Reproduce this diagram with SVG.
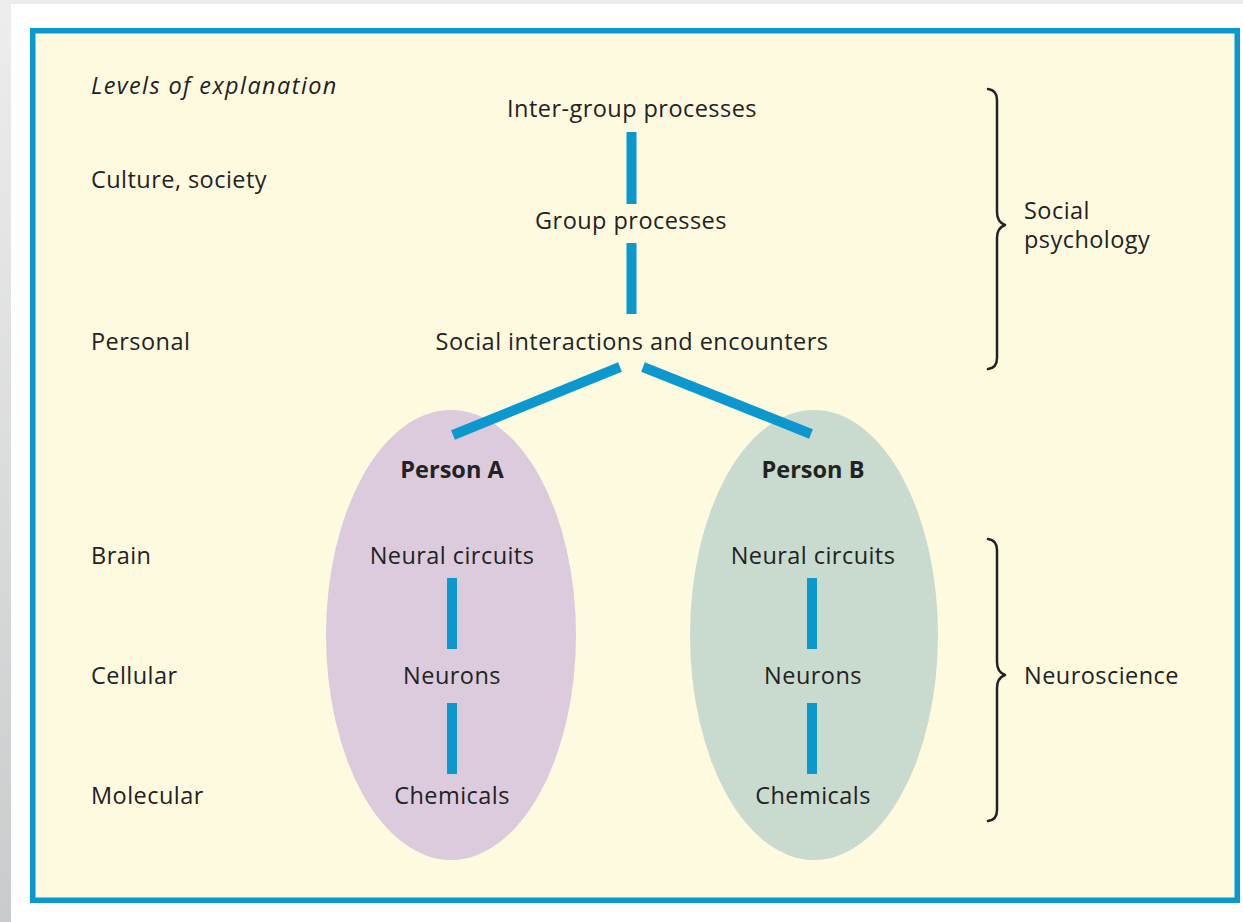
<svg xmlns="http://www.w3.org/2000/svg" width="1243" height="922" viewBox="0 0 1243 922">
  <defs>
    <linearGradient id="sideShade" x1="0" y1="0" x2="0" y2="1">
      <stop offset="0" stop-color="#ededed"/>
      <stop offset="1" stop-color="#c9cbcc"/>
    </linearGradient>
    <style>
      .lbl { font-family: "Open Sans", "Noto Sans", sans-serif; font-size: 23.5px; letter-spacing: 0.45px; fill: #222; }
      .mid { text-anchor: middle; }
      .bold { font-weight: bold; letter-spacing: 0; }
      .ital { font-style: italic; letter-spacing: 1.4px; }
      .link { stroke: #0a98cf; stroke-width: 10; stroke-linecap: butt; fill: none; }
      .brace { stroke: #222; stroke-width: 2.5; fill: none; stroke-linecap: round; stroke-linejoin: round; }
    </style>
  </defs>

  <!-- page backdrop -->
  <rect x="0" y="0" width="1243" height="922" fill="#ffffff"/>
  <rect x="0" y="0" width="1243" height="4" fill="#ececec"/>
  <rect x="0" y="0" width="11" height="922" fill="url(#sideShade)"/>

  <!-- framed panel -->
  <rect x="32.75" y="30.75" width="1204.5" height="869.5" fill="#fefadf" stroke="#0a98cf" stroke-width="5.5"/>

  <!-- left column: levels of explanation -->
  <g id="levels">
    <text class="lbl ital" x="91" y="94">Levels of explanation</text>
    <text class="lbl" x="91" y="188">Culture, society</text>
    <text class="lbl" x="91" y="350">Personal</text>
    <text class="lbl" x="91" y="564">Brain</text>
    <text class="lbl" x="91" y="684">Cellular</text>
    <text class="lbl" x="91" y="804">Molecular</text>
  </g>

  <!-- person ellipses -->
  <g id="personA">
    <ellipse cx="451" cy="635" rx="125" ry="225" fill="#dccbdc"/>
    <text class="lbl mid bold" x="452" y="478">Person A</text>
  </g>
  <g id="personB">
    <ellipse cx="814" cy="635" rx="124" ry="225" fill="#c9dace"/>
    <text class="lbl mid bold" x="813" y="478">Person B</text>
  </g>

  <!-- connectors -->
  <g id="connectors">
    <line class="link" x1="631.5" y1="132" x2="631.5" y2="204"/>
    <line class="link" x1="631.5" y1="243" x2="631.5" y2="314"/>
    <line class="link" x1="453" y1="435" x2="620" y2="367"/>
    <line class="link" x1="643" y1="367" x2="811" y2="434"/>
    <line class="link" x1="452" y1="578" x2="452" y2="649"/>
    <line class="link" x1="452" y1="703" x2="452" y2="774"/>
    <line class="link" x1="812" y1="578" x2="812" y2="649"/>
    <line class="link" x1="812" y1="703" x2="812" y2="774"/>
  </g>

  <!-- social levels -->
  <g id="intergroup"><text class="lbl mid" x="632" y="117">Inter-group processes</text></g>
  <g id="group"><text class="lbl mid" x="631" y="229">Group processes</text></g>
  <g id="interactions"><text class="lbl mid" x="632" y="350">Social interactions and encounters</text></g>

  <!-- neural levels -->
  <g id="circuitsA"><text class="lbl mid" x="452" y="564">Neural circuits</text></g>
  <g id="neuronsA"><text class="lbl mid" x="452" y="684">Neurons</text></g>
  <g id="chemicalsA"><text class="lbl mid" x="452" y="804">Chemicals</text></g>
  <g id="circuitsB"><text class="lbl mid" x="813" y="564">Neural circuits</text></g>
  <g id="neuronsB"><text class="lbl mid" x="813" y="684">Neurons</text></g>
  <g id="chemicalsB"><text class="lbl mid" x="813" y="804">Chemicals</text></g>

  <!-- braces -->
  <g id="socialPsychology">
    <path class="brace" d="M988 89 Q997 90 997 100 L997 212 Q997 222 1005 225 Q997 228 997 238 L997 358 Q997 368 988 369"/>
    <text class="lbl" x="1024" y="219">Social</text>
    <text class="lbl" x="1024" y="248">psychology</text>
  </g>
  <g id="neuroscience">
    <path class="brace" d="M988 539 Q997 540 997 550 L997 662 Q997 672 1005 675 Q997 678 997 688 L997 810 Q997 820 988 821"/>
    <text class="lbl" x="1024" y="684">Neuroscience</text>
  </g>
</svg>
